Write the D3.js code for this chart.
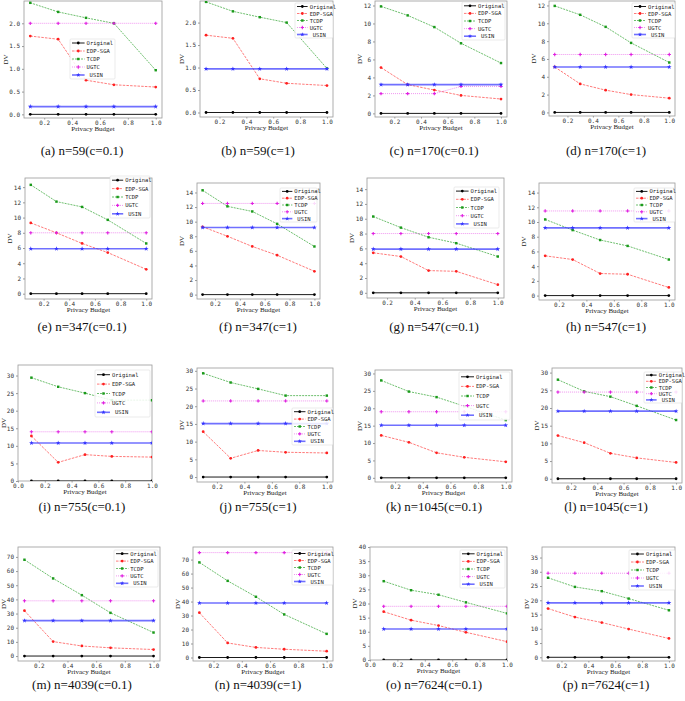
<!DOCTYPE html>
<html>
<head>
<meta charset="utf-8">
<script src="https://cdn.jsdelivr.net/npm/d3@7"></script>
<style>
  body { margin: 0; background: #fff; }
  .tick-label { font-family: "DejaVu Sans Mono", monospace; font-size: 6px; fill: #333; }
  .axis-label { font-family: "Liberation Serif", serif; font-size: 7px; fill: #222; }
  .legend-text { font-family: "DejaVu Sans Mono", monospace; font-size: 5.5px; fill: #222; }
  .caption { font-family: "Liberation Serif", "DejaVu Serif", serif; font-size: 13px; fill: #111; }
</style>
</head>
<body>
<svg id="chart" width="685" height="701"></svg>
<script>
// x positions (privacy budget)
const budgets = [0.1, 0.3, 0.5, 0.7, 1.0];

const captions = [
  "(a) n=59(c=0.1)", "(b) n=59(c=1)", "(c) n=170(c=0.1)", "(d) n=170(c=1)",
  "(e) n=347(c=0.1)", "(f) n=347(c=1)", "(g) n=547(c=0.1)", "(h) n=547(c=1)",
  "(i) n=755(c=0.1)", "(j) n=755(c=1)", "(k) n=1045(c=0.1)", "(l) n=1045(c=1)",
  "(m) n=4039(c=0.1)", "(n) n=4039(c=1)", "(o) n=7624(c=0.1)", "(p) n=7624(c=1)"
];

const seriesNames = ["Original", "EDP-SGA", "TCDP", "UGTC", "USIN"];

// DV values per panel, a..p
const original = Array.from({length: 16}, () => [0, 0, 0, 0, 0]);
const edpSga = [
  [1.72, 1.65, 0.75, 0.65, 0.60], [1.72, 1.65, 0.75, 0.65, 0.60],
  [5.1, 3.2, 2.6, 2.0, 1.6],      [5.1, 3.2, 2.5, 2.0, 1.6],
  [9.3, 8.0, 6.6, 5.4, 3.2],      [9.3, 8.0, 6.6, 5.4, 3.2],
  [5.4, 4.9, 3.0, 2.9, 1.1],      [5.4, 4.9, 3.0, 2.9, 1.1],
  [12.8, 5.3, 7.5, 7.0, 6.8],     [12.8, 5.3, 7.5, 7.0, 6.8],
  [12.2, 10.2, 7.2, 5.9, 4.6],    [12.2, 10.2, 7.2, 5.9, 4.6],
  [32, 10.2, 7.1, 5.8, 4.6],      [32, 10.4, 7.2, 5.9, 4.5],
  [17.1, 14.1, 12.2, 9.8, 6.5],   [17.1, 14.1, 12.2, 9.9, 6.6]
];
const tcdp = [
  [2.45, 2.25, 2.12, 2.0, 0.97],  [2.46, 2.25, 2.12, 2.0, 0.98],
  [11.9, 10.9, 9.6, 7.8, 5.6],    [11.95, 10.95, 9.6, 7.8, 5.6],
  [14.3, 12.1, 11.4, 9.7, 6.6],   [14.3, 12.1, 11.4, 9.7, 6.6],
  [10.3, 8.8, 7.5, 6.7, 4.9],     [10.35, 8.9, 7.55, 6.75, 4.9],
  [29.4, 26.8, 25.0, 23.0, 23.0], [29.3, 26.7, 24.9, 23.0, 23.0],
  [28.0, 24.8, 23.2, 20.6, 16.6], [28.0, 24.7, 23.2, 20.6, 16.6],
  [68, 54.8, 43, 30.5, 16.6],     [68, 54.8, 43.4, 30.8, 16.9],
  [27.9, 24.7, 23.1, 20.4, 16.5], [27.9, 24.7, 23.2, 20.6, 16.5]
];
const ugtc = [
  [2.0, 2.0, 2.0, 2.0, 2.0],      [3.0, 3.0, 3.0, 3.0, 3.0],
  [2.2, 2.2, 2.2, 3.0, 3.0],      [6.5, 6.5, 6.5, 6.5, 6.5],
  [8.0, 8.0, 8.0, 8.0, 8.0],      [12.5, 12.5, 12.5, 12.5, 12.5],
  [8.0, 8.0, 8.0, 8.0, 8.0],      [11.5, 11.5, 11.5, 11.5, 11.5],
  [14.0, 14.0, 14.0, 14.0, 14.0], [21.5, 21.5, 21.5, 21.5, 21.5],
  [19.0, 19.0, 19.0, 19.0, 19.0], [24.5, 24.5, 24.5, 24.5, 24.5],
  [39, 39, 39, 39, 39],           [75, 75, 75, 75, 75],
  [19.0, 19.0, 19.0, 19.0, 19.0], [29.5, 29.5, 29.5, 29.5, 29.5]
];
const usin = [
  [0.17, 0.17, 0.17, 0.17, 0.17], [0.97, 0.97, 0.97, 0.97, 0.97],
  [3.2, 3.2, 3.2, 3.2, 3.2],      [5.1, 5.1, 5.1, 5.1, 5.1],
  [5.9, 5.9, 5.9, 5.9, 5.9],      [9.2, 9.2, 9.2, 9.2, 9.2],
  [5.9, 5.9, 5.9, 5.9, 5.9],      [9.2, 9.2, 9.2, 9.2, 9.2],
  [10.8, 10.8, 10.8, 10.8, 10.8], [15.1, 15.1, 15.1, 15.1, 15.1],
  [15.1, 15.1, 15.1, 15.1, 15.1], [19.1, 19.1, 19.1, 19.1, 19.1],
  [25, 25, 25, 25, 25],           [39, 39, 39, 39, 39],
  [11.0, 11.0, 11.0, 11.0, 11.0], [19.1, 19.1, 19.1, 19.1, 19.1]
];

// axis limits and tick steps
const yLimits = [
  [-0.08, 2.49], [-0.1, 2.48], [-0.4, 12.5], [-0.4, 12.5],
  [-0.7, 15.2], [-0.6, 15.3], [-0.7, 15.5], [-0.6, 15.3],
  [0, 33], [-1.4, 30.8], [-1.2, 31], [-1.2, 31.3],
  [-3.5, 77], [-2.5, 79], [0, 40], [-1.3, 38.7]
];
const yTickSteps = [0.5, 0.5, 2, 2, 2, 2, 2, 2, 5, 5, 5, 5, 10, 10, 5, 5];
const xLimits = [
  [0.055, 1.045], [0.055, 1.045], [0.055, 1.045], [0.055, 1.045],
  [0.055, 1.045], [0.055, 1.045], [0.055, 1.045], [0.055, 1.045],
  [0, 1.0], [0.055, 1.045], [0.055, 1.045], [0.055, 1.045],
  [0.055, 1.045], [0.055, 1.045], [0, 1.0], [0.055, 1.045]
];

// layout: plot box [left, top, right, bottom], legend box [x0, y0, x1, y1]
const boxes = [
  [24, 1, 162, 118], [200, 1, 333, 117], [375, 1, 507, 117], [549, 1, 675, 116],
  [25, 178, 152, 299], [197, 183, 320, 299], [367, 178, 504, 298], [539, 183, 675, 300],
  [18, 365, 152, 481], [197, 368, 333, 482], [375, 370, 512, 482], [552, 368, 682, 483],
  [18, 547, 160, 661], [193, 547, 333, 661], [370, 547, 507, 660], [542, 547, 675, 661]
];
const legendBoxes = [
  [70, 39, 115, 79], [295, 3, 333, 38], [462, 2, 505, 40], [632, 3, 675, 38],
  [110, 176, 150, 218], [280, 188, 317, 222], [454, 187, 499, 228], [634, 188, 675, 222],
  [95, 370, 150, 417], [292, 408, 333, 445], [459, 372, 510, 420], [644, 372, 682, 403],
  [114, 550, 158, 587], [292, 550, 333, 585], [460, 550, 505, 588], [629, 550, 675, 590]
];
const captionPos = [
  [82, 155], [258, 155], [434, 155], [606, 155],
  [82, 331], [258, 331], [434, 331], [606, 331],
  [82, 511], [258, 511], [434, 511], [606, 511],
  [82, 689], [258, 689], [434, 689], [606, 689]
];

const styles = {
  "Original": {color: "#000", dash: null, width: 0.9, opacity: 1, marker: d3.symbolCircle},
  "EDP-SGA": {color: "#ff2020", dash: "2.5,1.2", width: 0.8, opacity: 0.75, marker: d3.symbolCircle},
  "TCDP": {color: "#1a9a1a", dash: "2,1", width: 0.8, opacity: 0.8, marker: d3.symbolSquare},
  "UGTC": {color: "#e020e0", dash: "1,1", width: 0.8, opacity: 0.6, marker: d3.symbolCross},
  "USIN": {color: "#3333ff", dash: null, width: 1.6, opacity: 0.7, marker: d3.symbolStar}
};

const svg = d3.select("#chart");

function drawPanel(i) {
  const [l, t, r, b] = boxes[i];
  const g = svg.append("g").attr("class", "panel");

  const x = d3.scaleLinear().domain(xLimits[i]).range([l, r]);
  const y = d3.scaleLinear().domain(yLimits[i]).range([b, t]);

  const clipId = "clip" + i;
  g.append("clipPath").attr("id", clipId)
    .append("rect").attr("x", l).attr("y", t).attr("width", r - l).attr("height", b - t);

  // axes
  const step = yTickSteps[i];
  const yTicks = d3.range(Math.ceil(yLimits[i][0] / step - 1e-9) * step, yLimits[i][1] + 1e-9, step)
    .map(v => +v.toFixed(4));
  const xTicks = xLimits[i][0] <= 0 ? [0, 0.2, 0.4, 0.6, 0.8, 1.0] : [0.2, 0.4, 0.6, 0.8, 1.0];
  const yFmt = step < 1 ? d3.format(".1f") : d3.format("d");

  const yAxis = g.append("g").attr("transform", `translate(${l},0)`)
    .call(d3.axisLeft(y).tickValues(yTicks).tickSize(2).tickPadding(2).tickFormat(yFmt));
  const xAxis = g.append("g").attr("transform", `translate(0,${b})`)
    .call(d3.axisBottom(x).tickValues(xTicks).tickSize(1.5).tickPadding(1).tickFormat(d3.format(".1f")));
  [xAxis, yAxis].forEach(a => {
    a.select(".domain").remove();
    a.selectAll(".tick line").attr("stroke", "#555").attr("stroke-width", 0.6);
    a.selectAll(".tick text").attr("class", "tick-label").attr("font-size", null).attr("font-family", null);
  });

  // frame
  g.append("rect").attr("x", l).attr("y", t).attr("width", r - l).attr("height", b - t)
    .attr("fill", "none").attr("stroke", "#999").attr("stroke-width", 0.8);

  g.append("text").attr("class", "axis-label")
    .attr("x", (l + r) / 2).attr("y", b + 13).attr("text-anchor", "middle")
    .text("Privacy Budget");
  g.append("text").attr("class", "axis-label")
    .attr("transform", `translate(${Math.max(l - (step < 1 ? 16 : 13), 6)},${(t + b) / 2}) rotate(-90)`)
    .attr("text-anchor", "middle").text("DV");

  // series
  const data = {
    "Original": original[i], "EDP-SGA": edpSga[i], "TCDP": tcdp[i],
    "UGTC": ugtc[i], "USIN": usin[i]
  };
  const plot = g.append("g").attr("clip-path", `url(#${clipId})`);
  const line = d3.line().x((d, k) => x(budgets[k])).y(d => y(d));
  seriesNames.forEach(name => {
    const s = styles[name];
    const vals = data[name];
    plot.append("path")
      .attr("d", line(vals))
      .attr("fill", "none")
      .attr("stroke", s.color)
      .attr("stroke-width", s.width)
      .attr("stroke-opacity", s.opacity)
      .attr("stroke-dasharray", s.dash);
    plot.selectAll(null).data(vals).enter().append("path")
      .attr("transform", (d, k) => `translate(${x(budgets[k])},${y(d)})`)
      .attr("d", d3.symbol().type(s.marker).size(name === "USIN" ? 7 : 6))
      .attr("fill", s.color);
  });

  // legend
  const [lx0, ly0, lx1, ly1] = legendBoxes[i];
  const lg = g.append("g");
  lg.append("rect").attr("x", lx0).attr("y", ly0).attr("width", lx1 - lx0).attr("height", ly1 - ly0)
    .attr("fill", "#fff").attr("fill-opacity", 0.85).attr("stroke", "#ddd").attr("stroke-width", 0.6)
    .attr("rx", 1);
  const rowH = (ly1 - ly0) / 5;
  const sampleW = Math.min((lx1 - lx0) * 0.28, 13);
  const fs = Math.min(5.5, rowH * 0.72, (lx1 - lx0 - sampleW - 6) / 4.6);
  seriesNames.forEach((name, k) => {
    const s = styles[name];
    const cy = ly0 + rowH * (k + 0.5);
    lg.append("line")
      .attr("x1", lx0 + 2).attr("x2", lx0 + 2 + sampleW).attr("y1", cy).attr("y2", cy)
      .attr("stroke", s.color).attr("stroke-width", s.width).attr("stroke-opacity", s.opacity)
      .attr("stroke-dasharray", s.dash);
    lg.append("path")
      .attr("transform", `translate(${lx0 + 2 + sampleW / 2},${cy})`)
      .attr("d", d3.symbol().type(s.marker).size(6)).attr("fill", s.color);
    lg.append("text").attr("class", "legend-text")
      .attr("x", lx0 + 4 + sampleW + (name === "USIN" ? 3 : 0)).attr("y", cy + 2)
      .attr("font-size", fs)
      .text(name);
  });

  // caption
  g.append("text").attr("class", "caption")
    .attr("x", captionPos[i][0]).attr("y", captionPos[i][1]).attr("text-anchor", "middle")
    .text(captions[i]);
}

d3.range(16).forEach(drawPanel);
</script>
</body>
</html>
